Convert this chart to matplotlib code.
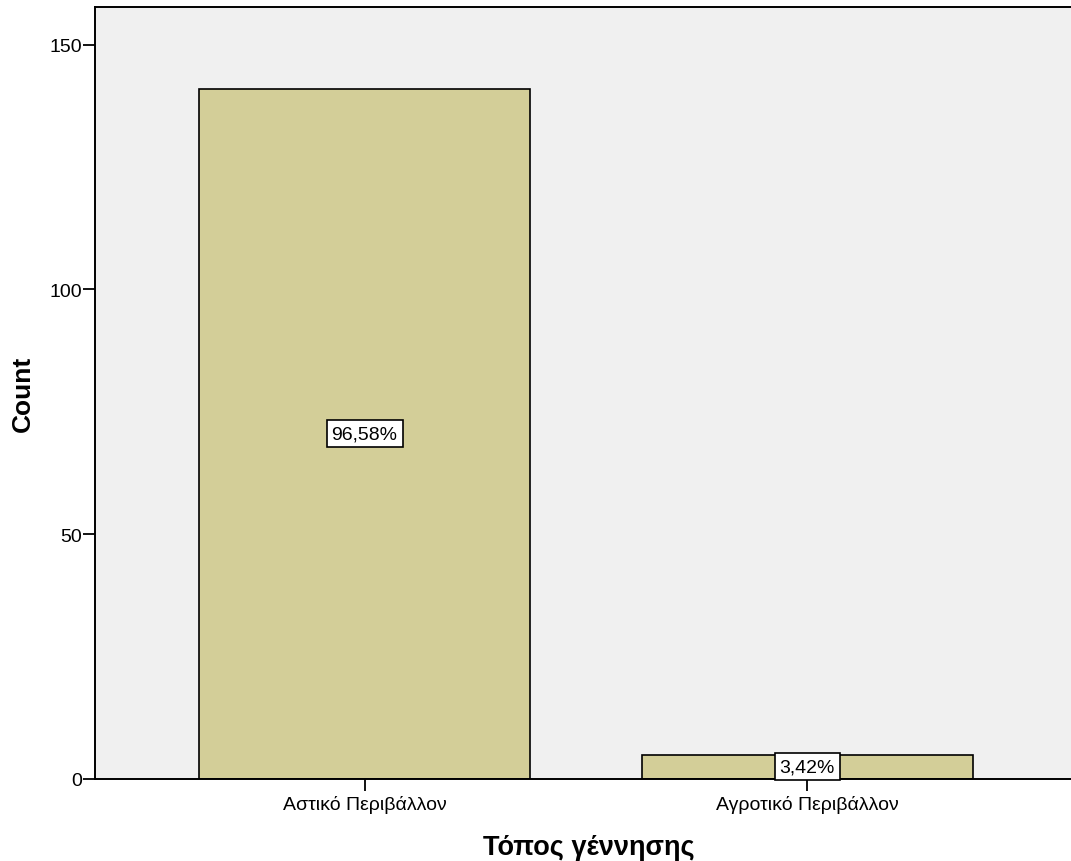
import matplotlib
matplotlib.use("Agg")
import matplotlib.pyplot as plt

categories = ["Αστικό Περιβάλλον", "Αγροτικό Περιβάλλον"]
counts = [141, 5]
percent_labels = ["96,58%", "3,42%"]
y_ticks = [0, 50, 100, 150]

plt.rcParams["font.family"] = ["Liberation Sans", "DejaVu Sans"]

fig = plt.figure(figsize=(10.71, 8.62), dpi=100)
ax = fig.add_axes([95 / 1071, 1 - 780 / 862, 1 - 95 / 1071 + 0.01, (780 - 7.5) / 862])
ax.set_facecolor("#F0F0F0")

x = list(range(len(categories)))
ax.bar(x, counts, width=0.747, color="#D3CE98", edgecolor="black", linewidth=1.2, zorder=2)

for xi, c, lab in zip(x, counts, percent_labels):
    ax.text(xi, c / 2, lab, ha="center", va="center", fontsize=14, zorder=3,
            bbox=dict(boxstyle="square,pad=0.26", facecolor="white", edgecolor="black", linewidth=1.2))

ax.set_xlim(-0.609, 1.62)
ax.set_ylim(0, 157.8)
ax.set_xticks(x)
ax.set_xticklabels(categories, fontsize=14)
ax.set_yticks(y_ticks)
ax.set_yticklabels([str(t) for t in y_ticks], fontsize=14)
ax.tick_params(axis="both", direction="out", length=8.5, width=1.3, colors="black")
ax.tick_params(axis="x", pad=3)
ax.tick_params(axis="y", pad=1)

for side in ["left", "top", "bottom"]:
    ax.spines[side].set_linewidth(1.4)
    ax.spines[side].set_color("black")
ax.spines["right"].set_visible(False)

ax.set_ylabel("Count", fontsize=19, fontweight="bold", labelpad=10)
ax.set_xlabel("Τόπος γέννησης", fontsize=19.5, fontweight="bold", labelpad=15)

fig.savefig("out.png", dpi=100, facecolor="white")
